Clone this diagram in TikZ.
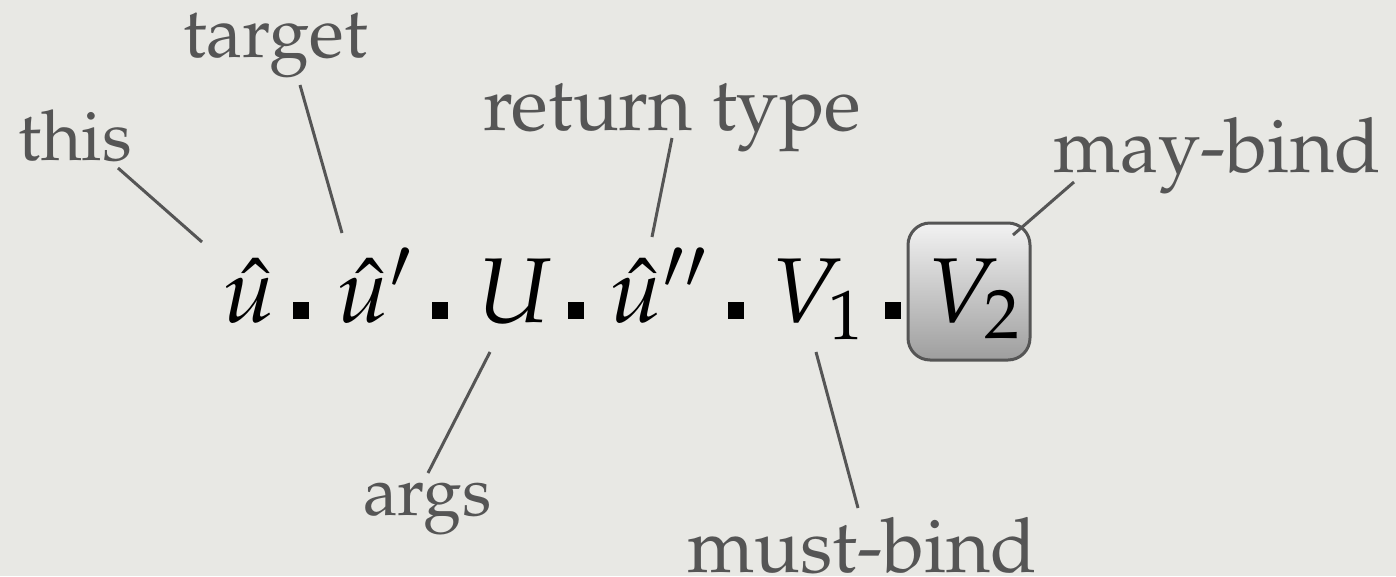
\documentclass[tikz,border=0pt]{standalone}
\usepackage[T1]{fontenc}
\usepackage{mathpazo}
\definecolor{bgcol}{RGB}{232,232,228}
\definecolor{labelgray}{RGB}{85,85,85}
\definecolor{linegray}{RGB}{85,85,85}
\begin{document}
\begin{tikzpicture}[x=1pt,y=-1pt,
  lbl/.style={text=labelgray, inner sep=0pt, anchor=base west, font=\fontsize{#1}{#1}\selectfont},
  lbl/.default=72,
  sym/.style={inner sep=0pt, anchor=base west, font=\fontsize{92}{92}\selectfont},
  conn/.style={draw=linegray, line width=3pt},
  sepdot/.style={fill=black, minimum width=16pt, minimum height=17pt, inner sep=0pt, anchor=south west},
  bindbox/.style={draw=linegray, line width=3pt, rounded corners=22pt, top color=white!95!black, bottom color=black!38, minimum width=122pt, minimum height=137pt, inner sep=0pt}]
\fill[bgcol] (0,0) rectangle (1396,576);
\useasboundingbox (0,0) rectangle (1396,576);
% labels
\node[lbl=70] (this) at (18,160) {this};
\node[lbl=72] (target) at (183,57) {target};
\node[lbl=76] (rettype) at (483,130) {return type};
\node[lbl=76] (maybind) at (1053,172) {may-bind};
\node[lbl=69] (args) at (363,515) {args};
\node[lbl=76] (mustbind) at (687,572) {must-bind};
% formula
\node[bindbox] (v2box) at (969,291.5) {};
\node[sym] (u1) at (222,322) {$\hat{u}$};
\node[sym] (u2) at (336,322) {$\hat{u}'$};
\node[sym] (U) at (478,322) {$U$};
\node[sym] (u3) at (609,322) {$\hat{u}''$};
\node[sym] (V1) at (771,322) {$V_1$};
\node[sym] (V2) at (927,322) {$V_2$};
\node[sepdot] (d1) at (293,319) {};
\node[sepdot] (d2) at (432,319) {};
\node[sepdot] (d3) at (568,319) {};
\node[sepdot] (d4) at (728,319) {};
\node[sepdot] (d5) at (885,319) {};
% connector ends
\coordinate (thisA) at (118,168);   \coordinate (thisB) at (202,242);
\coordinate (targA) at (300,85);    \coordinate (targB) at (342,233);
\coordinate (retA) at (672,138);    \coordinate (retB) at (652,237);
\coordinate (mayA) at (1074,182);   \coordinate (mayB) at (1013,235);
\coordinate (argsA) at (490,352);   \coordinate (argsB) at (428,473);
\coordinate (mustA) at (816,352);   \coordinate (mustB) at (858,508);
\draw[conn] (thisA) -- (thisB);
\draw[conn] (targA) -- (targB);
\draw[conn] (retA) -- (retB);
\draw[conn] (mayA) -- (mayB);
\draw[conn] (argsA) -- (argsB);
\draw[conn] (mustA) -- (mustB);
\end{tikzpicture}
\end{document}
